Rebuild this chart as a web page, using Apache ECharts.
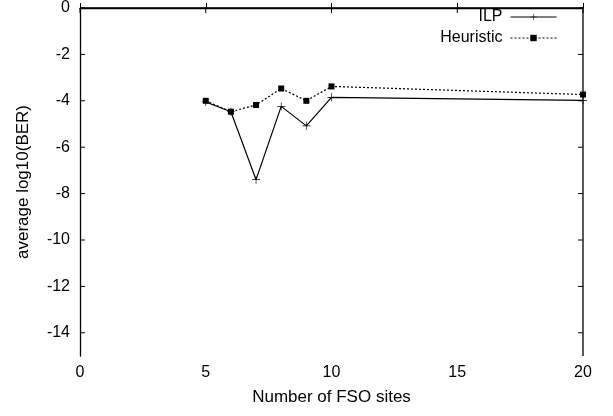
<!DOCTYPE html>
<html>
<head>
<meta charset="utf-8">
<style>
    html, body { margin: 0; padding: 0; background: #fff; }
    #main { width: 613px; height: 416px; }
</style>
<script src="https://cdn.jsdelivr.net/npm/echarts@6/dist/echarts.min.js"></script>
</head>
<body>
<div id="main"></div>
<script>
    // data
    var sites = [5, 6, 7, 8, 9, 10, 20];
    var ilp = [-4.05, -4.47, -7.4, -4.24, -5.08, -3.85, -3.98];
    var heuristic = [-4.0, -4.47, -4.18, -3.47, -4.0, -3.38, -3.73];
    var xTicks = [0, 5, 10, 15, 20];
    var yTicks = [0, -2, -4, -6, -8, -10, -12, -14];

    var font = 'Liberation Sans, Arial, sans-serif';
    var plus = 'path://M0,4.6 L10,4.6 L10,5.4 L0,5.4 Z M4.6,0 L5.4,0 L5.4,10 L4.6,10 Z';

    function pairs (ys) {
        return sites.map(function (x, i) { return [x, ys[i]] });
    }

    var myChart = echarts.init(document.getElementById('main'));

    myChart.setOption({
        animation: false,
        textStyle: { fontFamily: font },
        grid: { left: 80, right: 30, top: 7, bottom: 60 },
        legend: {
            orient: 'vertical',
            right: 51,
            top: 4,
            align: 'right',
            itemWidth: 46,
            itemHeight: 8,
            itemGap: 5,
            lineStyle: { width: 1 },
            textStyle: { fontFamily: font, fontSize: 16, color: '#000', padding: [0, 3, 0, 0] },
            data: ['ILP', 'Heuristic']
        },
        xAxis: {
            type: 'value',
            min: 0,
            max: 20,
            interval: 5,
            name: 'Number of FSO sites',
            nameLocation: 'middle',
            nameGap: 33,
            nameTextStyle: { fontFamily: font, fontSize: 17, color: '#000' },
            axisLine: { show: true, lineStyle: { color: '#000', width: 1.3 } },
            axisTick: { show: true, inside: true, length: 5, lineStyle: { color: '#000' } },
            axisLabel: { fontFamily: font, fontSize: 16, color: '#000', margin: 9 },
            splitLine: { show: false }
        },
        yAxis: {
            type: 'value',
            min: -15,
            max: 0,
            interval: 1,
            name: 'average log10(BER)',
            nameLocation: 'middle',
            nameGap: 48,
            nameTextStyle: { fontFamily: font, fontSize: 17, color: '#000' },
            axisLine: { show: true, lineStyle: { color: '#000', width: 1.3 } },
            axisTick: { show: false },
            axisLabel: {
                fontFamily: font, fontSize: 16, color: '#000', margin: 10,
                formatter: function (v) { return yTicks.indexOf(v) >= 0 ? String(v) : '' }
            },
            splitLine: { show: false }
        },
        series: [
            {
                name: 'ILP',
                type: 'line',
                data: pairs(ilp),
                symbol: plus,
                symbolSize: 8,
                color: '#000',
                lineStyle: { color: '#000', width: 1.2, type: 'solid' },
                itemStyle: { color: '#000' },
                z: 3
            },
            {
                name: 'Heuristic',
                type: 'line',
                data: pairs(heuristic),
                symbol: 'rect',
                symbolSize: 6,
                color: '#000',
                lineStyle: { color: '#000', width: 1.2, type: [2, 2] },
                itemStyle: { color: '#000' },
                z: 2
            }
        ]
    });

    // frame on top/right and the inward ticks on the other edges
    var p0 = myChart.convertToPixel({ gridIndex: 0 }, [0, 0]);
    var p1 = myChart.convertToPixel({ gridIndex: 0 }, [20, -15]);
    var line = function (x1, y1, x2, y2, w) {
        return { type: 'line', z: 10, shape: { x1: x1, y1: y1, x2: x2, y2: y2 }, style: { stroke: '#000', lineWidth: w || 1 } };
    };
    var g = [
        line(p0[0], p0[1], p1[0], p0[1], 1.3),
        line(p1[0], p0[1], p1[0], p1[1], 1.3)
    ];
    xTicks.forEach(function (x) {
        var p = myChart.convertToPixel({ gridIndex: 0 }, [x, 0]);
        g.push(line(p[0], p[1], p[0], p[1] + 5));
    });
    yTicks.forEach(function (y) {
        var p = myChart.convertToPixel({ gridIndex: 0 }, [20, y]);
        g.push(line(p[0], p[1], p[0] - 5, p[1]));
        g.push(line(p0[0], p[1], p0[0] + 5, p[1]));
    });
    myChart.setOption({ graphic: g });
</script>
</body>
</html>
